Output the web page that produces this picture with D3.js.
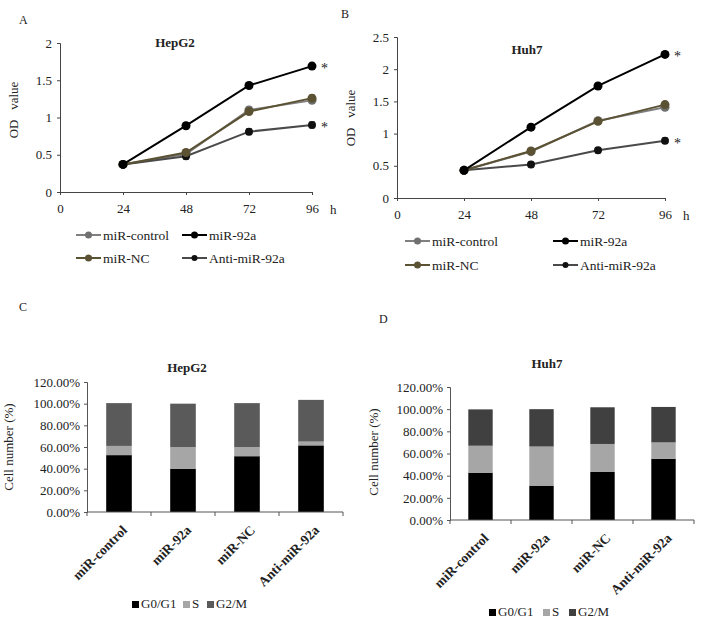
<!DOCTYPE html>
<html>
<head>
<meta charset="utf-8">
<script src="https://cdn.jsdelivr.net/npm/d3@7"></script>
<style>
	body { margin: 0; background: #fff; }
	svg text { font-family: "Liberation Serif", "Times New Roman", Tinos, Times, "DejaVu Serif", "Noto Serif", serif !important; fill: #222; }
</style>
</head>
<body>
<div id="chart"></div>
<script>
// time points (h)
const hours = [ 24, 48, 72, 96 ];
const lineSeries = [ 'miR-control', 'miR-92a', 'miR-NC', 'Anti-miR-92a' ];

// OD values
const hepg2Control = [ 0.37, 0.51, 1.10, 1.23 ];
const hepg2Mir92a = [ 0.37, 0.89, 1.43, 1.69 ];
const hepg2NC = [ 0.37, 0.53, 1.08, 1.26 ];
const hepg2Anti = [ 0.37, 0.48, 0.81, 0.90 ];

const huh7Control = [ 0.43, 0.72, 1.20, 1.41 ];
const huh7Mir92a = [ 0.43, 1.10, 1.74, 2.23 ];
const huh7NC = [ 0.43, 0.73, 1.19, 1.45 ];
const huh7Anti = [ 0.43, 0.52, 0.74, 0.89 ];

// cell cycle distribution (fraction)
const groups = [ 'miR-control', 'miR-92a', 'miR-NC', 'Anti-miR-92a' ];
const phases = [ 'G0/G1', 'S', 'G2/M' ];
const hepg2G0 = [ 0.525, 0.40, 0.515, 0.615 ];
const hepg2S = [ 0.085, 0.20, 0.085, 0.035 ];
const hepg2G2 = [ 0.395, 0.40, 0.405, 0.385 ];
const huh7G0 = [ 0.427, 0.31, 0.433, 0.553 ];
const huh7S = [ 0.243, 0.353, 0.253, 0.147 ];
const huh7G2 = [ 0.328, 0.337, 0.331, 0.32 ];

let svg = d3.select( '#chart' ).append( 'svg' )
	.attr( 'width', 709 )
	.attr( 'height', 622 );

const lineColors = { 'miR-control': '#808080', 'miR-92a': '#000', 'miR-NC': '#5a5233', 'Anti-miR-92a': '#4a4a4a' };
const dotColors = { 'miR-control': '#707070', 'miR-92a': '#000', 'miR-NC': '#5a5233', 'Anti-miR-92a': '#111' };

function lineChart( opt ){
	let g = svg.append( 'g' ),
		x = d3.scaleLinear().domain( [ 0, 96 ] ).range( opt.xr ),
		y = d3.scaleLinear().domain( [ 0, opt.ymax ] ).range( opt.yr ),
		ticks = d3.range( 0, opt.ymax + 0.01, 0.5 );

	// axes
	g.append( 'g' ).attr( 'transform', `translate(${opt.xr[0]},0)` )
		.call( d3.axisLeft( y ).tickValues( ticks ).tickSize( 3 ).tickPadding( 5 ).tickFormat( d3.format( '' ) ) )
		.call( a => a.selectAll( 'text' ).attr( 'font-size', 13 ) );
	g.append( 'g' ).attr( 'transform', `translate(0,${opt.yr[0]})` )
		.call( d3.axisBottom( x ).tickValues( [ 0 ].concat( hours ) ).tickSize( 3 ).tickSizeOuter( 0 ).tickPadding( 9 ) )
		.call( a => a.selectAll( 'text' ).attr( 'font-size', 13 ) );
	g.selectAll( '.domain, .tick line' ).attr( 'stroke', '#444' );

	g.append( 'text' ).attr( 'x', opt.xr[1] + 18 ).attr( 'y', opt.yr[0] + 22 ).attr( 'font-size', 13 ).text( 'h' );
	g.append( 'text' ).attr( 'transform', `translate(${opt.ylx},${opt.yly}) rotate(-90)` )
		.attr( 'text-anchor', 'middle' ).attr( 'font-size', 13 ).attr( 'xml:space', 'preserve' ).text( 'OD   value' );
	g.append( 'text' ).attr( 'x', opt.tx ).attr( 'y', opt.ty ).attr( 'text-anchor', 'middle' )
		.attr( 'font-size', 13 ).attr( 'font-weight', 'bold' ).text( opt.title );

	let line = d3.line().x( ( d, i ) => x( hours[i] ) ).y( d => y( d ) );
	let order = [ 0, 3, 2, 1 ];
	order.forEach( k => {
		let name = lineSeries[k], vals = opt.data[k];
		g.append( 'path' ).attr( 'd', line( vals ) ).attr( 'fill', 'none' )
			.attr( 'stroke', lineColors[name] ).attr( 'stroke-width', 2 );
		// error bars
		g.selectAll( null ).data( vals.slice( 1 ) ).enter().append( 'path' )
			.attr( 'd', ( d, i ) => {
				let cx = x( hours[i + 1] ), e = 0.04;
				return `M${cx - 3},${y( d + e )}H${cx + 3}M${cx},${y( d + e )}V${y( d - e )}M${cx - 3},${y( d - e )}H${cx + 3}`;
			} )
			.attr( 'stroke', '#666' ).attr( 'stroke-width', 1 ).attr( 'fill', 'none' );
		g.selectAll( null ).data( vals ).enter().append( 'circle' )
			.attr( 'cx', ( d, i ) => x( hours[i] ) ).attr( 'cy', d => y( d ) )
			.attr( 'r', k === 3 ? 4 : 4.5 ).attr( 'fill', dotColors[name] );
	} );

	// significance marks
	[ 1, 3 ].forEach( k => {
		g.append( 'text' ).attr( 'x', x( 96 ) + 9 ).attr( 'y', y( opt.data[k][3] ) + 7 )
			.attr( 'font-size', 14 ).text( '*' );
	} );

	// legend
	lineSeries.forEach( ( name, i ) => {
		let lx = opt.lx[ i % 2 ], ly = opt.ly[ Math.floor( i / 2 ) ];
		g.append( 'line' ).attr( 'x1', lx ).attr( 'x2', lx + 25 ).attr( 'y1', ly ).attr( 'y2', ly )
			.attr( 'stroke', lineColors[name] ).attr( 'stroke-width', 2 );
		g.append( 'circle' ).attr( 'cx', lx + 12.5 ).attr( 'cy', ly ).attr( 'r', i === 3 ? 3 : 3.5 ).attr( 'fill', dotColors[name] );
		g.append( 'text' ).attr( 'x', lx + 27 ).attr( 'y', ly + 5 ).attr( 'font-size', 13.5 ).text( name );
	} );

	g.append( 'text' ).attr( 'x', opt.px ).attr( 'y', opt.py ).attr( 'font-size', 12 ).text( opt.panel );
}

function barChart( opt ){
	let g = svg.append( 'g' ),
		x = d3.scaleBand().domain( groups ).range( opt.xr ).paddingInner( 0.6 ).paddingOuter( 0.3 ),
		y = d3.scaleLinear().domain( [ 0, 1.2 ] ).range( opt.yr ),
		colors = { 'G0/G1': '#000', 'S': '#a6a6a6', 'G2/M': opt.g2color };

	let rows = groups.map( ( gr, i ) => ( { group: gr, 'G0/G1': opt.g0[i], 'S': opt.s[i], 'G2/M': opt.g2[i] } ) ),
		stacked = d3.stack().keys( phases )( rows );

	g.append( 'g' ).attr( 'transform', `translate(${opt.xr[0]},0)` )
		.call( d3.axisLeft( y ).ticks( 6 ).tickSize( 3 ).tickPadding( 4 ).tickFormat( d => ( d * 100 ).toFixed( 2 ) + '%' ) )
		.call( a => a.selectAll( 'text' ).attr( 'font-size', 13 ) );

	stacked.forEach( layer => {
		g.selectAll( null ).data( layer ).enter().append( 'rect' )
			.attr( 'x', d => x( d.data.group ) ).attr( 'width', x.bandwidth() )
			.attr( 'y', d => y( d[1] ) ).attr( 'height', d => y( d[0] ) - y( d[1] ) )
			.attr( 'fill', colors[ layer.key ] );
	} );

	// x axis with ticks at band boundaries
	let step = x.step();
	g.append( 'line' ).attr( 'x1', opt.xr[0] ).attr( 'x2', opt.xr[1] ).attr( 'y1', opt.yr[0] ).attr( 'y2', opt.yr[0] ).attr( 'stroke', '#555' );
	g.selectAll( null ).data( d3.range( 5 ) ).enter().append( 'line' )
		.attr( 'x1', i => opt.xr[0] + i * step ).attr( 'x2', i => opt.xr[0] + i * step )
		.attr( 'y1', opt.yr[0] ).attr( 'y2', opt.yr[0] + 4 ).attr( 'stroke', '#555' );
	g.selectAll( null ).data( groups ).enter().append( 'text' )
		.attr( 'transform', d => `translate(${x( d ) + x.bandwidth() / 2 + 9},${opt.yr[0] + 19}) rotate(-45)` )
		.attr( 'text-anchor', 'end' ).attr( 'font-size', 13.5 ).attr( 'font-weight', 'bold' ).text( d => d );

	g.selectAll( '.domain, .tick line' ).attr( 'stroke', '#555' );

	g.append( 'text' ).attr( 'transform', `translate(${opt.ylx},${opt.yly}) rotate(-90)` )
		.attr( 'text-anchor', 'middle' ).attr( 'font-size', 13 ).text( 'Cell number (%)' );
	g.append( 'text' ).attr( 'x', opt.tx ).attr( 'y', opt.ty ).attr( 'text-anchor', 'middle' )
		.attr( 'font-size', 13 ).attr( 'font-weight', 'bold' ).text( opt.title );
	g.append( 'text' ).attr( 'x', opt.px ).attr( 'y', opt.py ).attr( 'font-size', 12 ).text( opt.panel );

	// legend
	phases.forEach( ( p, i ) => {
		let lx = opt.lx[i];
		g.append( 'rect' ).attr( 'x', lx ).attr( 'y', opt.ly - 7 ).attr( 'width', 7 ).attr( 'height', 7 ).attr( 'fill', colors[p] );
		g.append( 'text' ).attr( 'x', lx + 9 ).attr( 'y', opt.ly ).attr( 'font-size', 13 ).text( p );
	} );
}

lineChart( {
	xr: [ 60, 312 ], yr: [ 192, 43 ], ymax: 2,
	data: [ hepg2Control, hepg2Mir92a, hepg2NC, hepg2Anti ],
	title: 'HepG2', tx: 175, ty: 47,
	ylx: 18, yly: 110,
	lx: [ 76, 182 ], ly: [ 235, 258 ],
	panel: 'A', px: 19, py: 24
} );

lineChart( {
	xr: [ 397, 665 ], yr: [ 198, 37 ], ymax: 2.5,
	data: [ huh7Control, huh7Mir92a, huh7NC, huh7Anti ],
	title: 'Huh7', tx: 527, ty: 54,
	ylx: 355, yly: 118,
	lx: [ 405, 553 ], ly: [ 241, 265 ],
	panel: 'B', px: 341, py: 18
} );

barChart( {
	xr: [ 87, 343 ], yr: [ 512, 382 ],
	g0: hepg2G0, s: hepg2S, g2: hepg2G2, g2color: '#5a5a5a',
	title: 'HepG2', tx: 187, ty: 372,
	ylx: 13, yly: 447,
	lx: [ 132, 183, 207 ], ly: 608,
	panel: 'C', px: 19, py: 311
} );

barChart( {
	xr: [ 450, 694 ], yr: [ 520, 387 ], 
	g0: huh7G0, s: huh7S, g2: huh7G2, g2color: '#404040',
	title: 'Huh7', tx: 547, ty: 368,
	ylx: 378, yly: 452,
	lx: [ 489, 543, 569 ], ly: 616,
	panel: 'D', px: 379, py: 323
} );
</script>
</body>
</html>
